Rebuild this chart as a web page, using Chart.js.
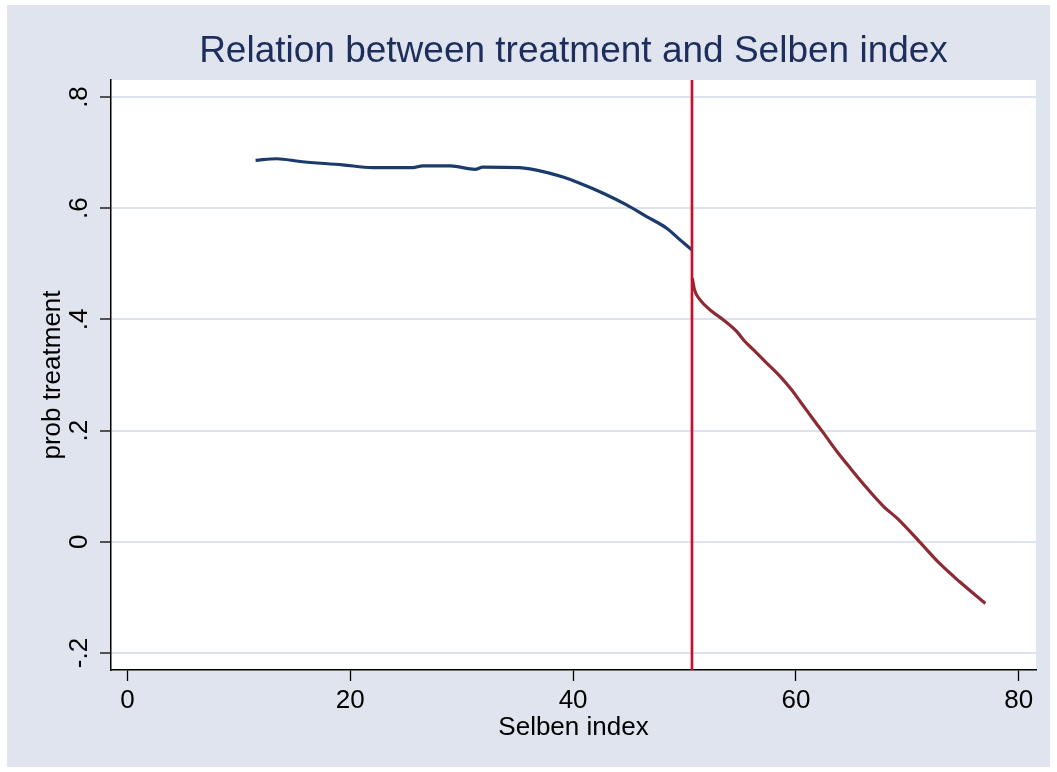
<!DOCTYPE html>
<html>
<head>
<meta charset="utf-8">
<script src="https://cdn.jsdelivr.net/npm/chart.js@4/dist/chart.umd.min.js"></script>
<style>
  html, body { margin: 0; padding: 0; background: #ffffff; }
  #wrap { width: 1057px; height: 772px; position: relative; }
</style>
</head>
<body>
<div id="wrap"><canvas id="c" width="1057" height="772"></canvas></div>
<script>
// ---- data ----
const titleText = 'Relation between treatment and Selben index';
const xTitle = 'Selben index';
const yTitle = 'prob treatment';

const xTicks = [0, 20, 40, 60, 80];
const xTickLabels = ['0', '20', '40', '60', '80'];
const yTicks = [-0.2, 0, 0.2, 0.4, 0.6, 0.8];
const yTickLabels = ['-.2', '0', '.2', '.4', '.6', '.8'];

const cutoff = 50.67;

const leftX = [11.5, 13.4, 15.5, 19.3, 22.0, 25.6, 26.5, 29.0, 31.2, 31.9, 35.2, 37.7, 39.1, 40.6, 42.7, 44.8, 46.6, 48.4, 49.6, 50.65];
const leftY = [0.686, 0.689, 0.684, 0.678, 0.673, 0.673, 0.676, 0.676, 0.670, 0.674, 0.673, 0.664, 0.656, 0.645, 0.627, 0.606, 0.585, 0.564, 0.543, 0.525];

const rightX = [50.7, 50.9, 51.4, 52.3, 53.5, 54.7, 55.3, 56.2, 57.4, 58.6, 59.5, 60.4, 61.6, 62.5, 63.7, 64.9, 66.4, 67.9, 69.1, 71.1, 72.9, 74.7, 77.0];
const rightY = [0.474, 0.453, 0.435, 0.417, 0.399, 0.378, 0.363, 0.345, 0.321, 0.297, 0.276, 0.252, 0.219, 0.195, 0.162, 0.132, 0.096, 0.063, 0.042, 0.000, -0.039, -0.072, -0.111];

// ---- styling ----
const FONT = '"Liberation Sans", Arial, sans-serif';
const BG = '#dfe4ef';
const GRID = '#dde3ee';

const toPts = (xs, ys) => xs.map((x, i) => ({ x: x, y: ys[i] }));

const bgPlugin = {
  id: 'bg',
  beforeDraw(chart) {
    const ctx = chart.ctx;
    const a = chart.chartArea;
    ctx.save();
    ctx.fillStyle = '#ffffff';
    ctx.fillRect(0, 0, chart.width, chart.height);
    ctx.fillStyle = BG;
    ctx.fillRect(7, 5, chart.width - 14, chart.height - 10);
    ctx.fillStyle = '#ffffff';
    ctx.fillRect(a.left, a.top, a.right - a.left, a.bottom - a.top);
    ctx.restore();
  }
};

const xlinePlugin = {
  id: 'xline',
  afterDatasetsDraw(chart) {
    const ctx = chart.ctx;
    const a = chart.chartArea;
    const px = chart.scales.x.getPixelForValue(cutoff);
    ctx.save();
    ctx.strokeStyle = '#c8102e';
    ctx.lineWidth = 2.7;
    ctx.beginPath();
    ctx.moveTo(px, a.top);
    ctx.lineTo(px, a.bottom);
    ctx.stroke();
    ctx.restore();
  }
};

new Chart(document.getElementById('c'), {
  type: 'line',
  data: {
    datasets: [
      {
        data: toPts(leftX, leftY),
        borderColor: '#1b3b6f',
        borderWidth: 3.2,
        pointRadius: 0,
        cubicInterpolationMode: 'monotone',
        fill: false
      },
      {
        data: toPts(rightX, rightY),
        borderColor: '#8c2b33',
        borderWidth: 3.2,
        pointRadius: 0,
        cubicInterpolationMode: 'monotone',
        fill: false
      }
    ]
  },
  options: {
    responsive: false,
    animation: false,
    devicePixelRatio: 1,
    layout: { padding: { left: 0, right: 21, top: 0, bottom: 0 } },
    plugins: {
      legend: { display: false },
      tooltip: { enabled: false },
      title: {
        display: true,
        text: titleText,
        fullSize: false,
        color: '#1e2e5c',
        font: { family: FONT, size: 37, weight: 'normal', lineHeight: 1.2 },
        padding: { top: 30, bottom: 5.6 }
      }
    },
    scales: {
      x: {
        type: 'linear',
        min: -1.48,
        max: 81.55,
        afterBuildTicks: s => { s.ticks = xTicks.map(v => ({ value: v })); },
        afterFit: s => { s.height = 102; },
        ticks: {
          callback: (v) => xTickLabels[xTicks.indexOf(v)],
          color: '#000',
          font: { family: FONT, size: 26 },
          padding: 4,
          maxRotation: 0,
          autoSkip: false
        },
        grid: {
          drawOnChartArea: false,
          drawTicks: true,
          tickLength: 11,
          tickColor: '#000',
          tickWidth: 1.3
        },
        border: { display: true, color: '#000', width: 1.5 },
        title: {
          display: true,
          text: xTitle,
          color: '#000',
          font: { family: FONT, size: 26, lineHeight: 1.2 },
          padding: { top: 0, bottom: 29 }
        }
      },
      y: {
        type: 'linear',
        min: -0.2306,
        max: 0.8306,
        afterBuildTicks: s => { s.ticks = yTicks.map(v => ({ value: v })); },
        afterFit: s => { s.width = 111; },
        ticks: {
          callback: (v) => {
            const i = yTicks.findIndex(t => Math.abs(t - v) < 1e-9);
            return i >= 0 ? yTickLabels[i] : '';
          },
          color: '#000',
          font: { family: FONT, size: 26 },
          minRotation: 90,
          maxRotation: 90,
          crossAlign: 'center',
          padding: 5,
          autoSkip: false
        },
        grid: {
          color: GRID,
          lineWidth: 2,
          drawTicks: true,
          tickLength: 11,
          tickColor: '#000',
          tickWidth: 1.3
        },
        border: { display: true, color: '#000', width: 1.5 },
        title: {
          display: true,
          text: yTitle,
          color: '#000',
          font: { family: FONT, size: 26, lineHeight: 1.2 },
          padding: { top: 37, bottom: 0 }
        }
      }
    }
  },
  plugins: [bgPlugin, xlinePlugin]
});
</script>
</body>
</html>
